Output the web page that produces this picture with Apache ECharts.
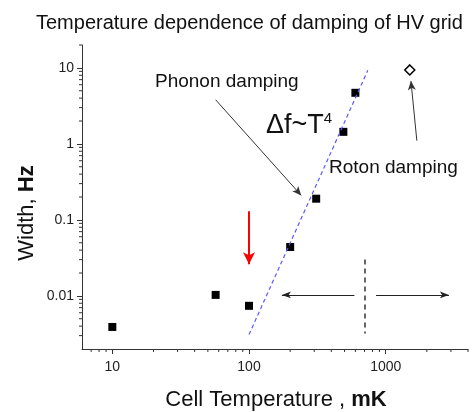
<!DOCTYPE html>
<html>
<head>
<meta charset="utf-8">
<script src="https://cdn.jsdelivr.net/npm/echarts@6/dist/echarts.min.js"></script>
<style>
  html, body { margin: 0; padding: 0; background: #fff; }
  #main { width: 473px; height: 412px; }
</style>
</head>
<body>
<div id="main"></div>
<script>
// measured widths (filled squares): temperature mK -> width Hz
const cellTemp = [10, 57, 100, 200, 310, 490, 600];
const widthHz = [0.0039, 0.0103, 0.0074, 0.044, 0.19, 1.44, 4.7];
// roton damping point (open diamond)
const rotonPoint = [[1500, 9.4]];
// T^4 guide line ends
const t4Line = [[100, 0.0031], [740, 9.3]];

// axis ranges and ticks
const xRange = [6, 4000];
const yRange = [0.002, 20];
const xMinorTicks = [7, 8, 9, 20, 30, 40, 50, 60, 70, 80, 90, 200, 300, 400, 500, 600, 700, 800, 900, 2000, 3000, 4000];
const yMinorTicks = [0.003, 0.004, 0.005, 0.006, 0.007, 0.008, 0.009,
  0.02, 0.03, 0.04, 0.05, 0.06, 0.07, 0.08, 0.09,
  0.2, 0.3, 0.4, 0.5, 0.6, 0.7, 0.8, 0.9,
  2, 3, 4, 5, 6, 7, 8, 9, 20];

const font = '"Liberation Sans", Arial, sans-serif';
const axisColor = '#333';

function arrow(from, to, color, width, size) {
  return [
    { coord: from, symbol: 'none', lineStyle: { color: color, width: width, type: 'solid' } },
    { coord: to, symbol: 'arrow', symbolSize: size }
  ];
}

const myChart = echarts.init(document.getElementById('main'));
myChart.setOption({
  animation: false,
  grid: { left: 82, right: 5, top: 45, bottom: 63 },
  xAxis: {
    type: 'log',
    logBase: 10,
    min: xRange[0],
    max: xRange[1],
    axisLine: { lineStyle: { color: axisColor, width: 1 } },
    axisTick: { length: 5, lineStyle: { color: axisColor } },
    axisLabel: {
      showMinLabel: false, showMaxLabel: false,
      margin: 11, fontSize: 14, color: '#222', fontFamily: font,
      formatter: v => String(+(+v).toPrecision(6))
    },
    splitLine: { show: false }
  },
  yAxis: {
    type: 'log',
    logBase: 10,
    min: yRange[0],
    max: yRange[1],
    axisLine: { show: true, lineStyle: { color: axisColor, width: 1 } },
    axisTick: { show: true, length: 5, lineStyle: { color: axisColor } },
    axisLabel: {
      showMinLabel: false, showMaxLabel: false,
      margin: 8, fontSize: 14, color: '#222', fontFamily: font,
      formatter: v => String(+(+v).toPrecision(6))
    },
    splitLine: { show: false }
  },
  title: {
    text: 'Temperature dependence of damping of HV grid',
    left: 31,
    top: 8,
    textStyle: { fontSize: 20, fontWeight: 'normal', color: '#111', fontFamily: font }
  },
  graphic: [
    { type: 'text', x: 155, y: 82, style: { text: 'Phonon damping', font: '19px ' + font, fill: '#111', verticalAlign: 'middle' } },
    { type: 'text', x: 329, y: 168, style: { text: 'Roton damping', font: '19px ' + font, fill: '#111', verticalAlign: 'middle' } },
    {
      type: 'text', x: 266, y: 126,
      style: {
        text: '{a|Δf~T}{s|4}',
        verticalAlign: 'middle',
        rich: {
          a: { fontSize: 27, fontFamily: font, fill: '#111' },
          s: { fontSize: 15, fontFamily: font, fill: '#111', verticalAlign: 'top', padding: [0, 0, 14, 0] }
        }
      }
    },
    {
      type: 'text', x: 276, y: 400,
      style: {
        text: '{n|Cell Temperature , }{b|mK}',
        align: 'center', verticalAlign: 'middle',
        rich: {
          n: { fontSize: 22, fontFamily: font, fill: '#111' },
          b: { fontSize: 22, fontFamily: font, fill: '#111', fontWeight: 'bold' }
        }
      }
    },
    {
      type: 'text', x: 27, y: 213, rotation: Math.PI / 2,
      style: {
        text: '{n|Width, }{b|Hz}',
        align: 'center', verticalAlign: 'middle',
        rich: {
          n: { fontSize: 22, fontFamily: font, fill: '#111' },
          b: { fontSize: 22, fontFamily: font, fill: '#111', fontWeight: 'bold' }
        }
      }
    }
  ],
  series: [
    {
      name: 'T4',
      type: 'line',
      data: t4Line,
      symbol: 'none',
      lineStyle: { color: '#5a5aff', width: 1.2, type: [4, 3] },
      silent: true
    },
    {
      name: 'width',
      type: 'scatter',
      data: cellTemp.map((t, i) => [t, widthHz[i]]),
      symbol: 'rect',
      symbolSize: 8,
      itemStyle: { color: '#000', opacity: 1 },
      markLine: {
        silent: true,
        animation: false,
        label: { show: false },
        data: [
          arrow([100, 0.13], [100, 0.026], '#ff0000', 2, [9, 12]),
          arrow([57, 3.8], [241, 0.21], '#333', 1, [6, 9]),
          arrow([1690, 1.1], [1530, 6.7], '#333', 1, [6, 9]),
          arrow([590, 0.0103], [174, 0.0103], '#222', 1, [5, 9]),
          arrow([850, 0.0103], [2900, 0.0103], '#222', 1, [5, 9]),
          [
            { coord: [700, 0.03], symbol: 'none', lineStyle: { color: '#333', width: 1.5, type: [5, 4] } },
            { coord: [700, 0.0032], symbol: 'none' }
          ]
        ]
      }
    },
    {
      name: 'roton',
      type: 'scatter',
      data: rotonPoint,
      symbol: 'diamond',
      symbolSize: 10,
      itemStyle: { color: '#fff', borderColor: '#000', borderWidth: 1.5, opacity: 1 }
    },
    {
      name: 'xMinor',
      type: 'custom',
      clip: false,
      silent: true,
      data: xMinorTicks.map(v => [v, yRange[0]]),
      renderItem: function (params, api) {
        const p = api.coord([api.value(0), yRange[0]]);
        return { type: 'line', shape: { x1: p[0], y1: p[1], x2: p[0], y2: p[1] + 3 }, style: { stroke: axisColor, lineWidth: 1 } };
      }
    },
    {
      name: 'yMinor',
      type: 'custom',
      clip: false,
      silent: true,
      data: yMinorTicks.map(v => [xRange[0], v]),
      renderItem: function (params, api) {
        const p = api.coord([xRange[0], api.value(1)]);
        return { type: 'line', shape: { x1: p[0], y1: p[1], x2: p[0] - 3, y2: p[1] }, style: { stroke: axisColor, lineWidth: 1 } };
      }
    }
  ]
});
</script>
</body>
</html>
